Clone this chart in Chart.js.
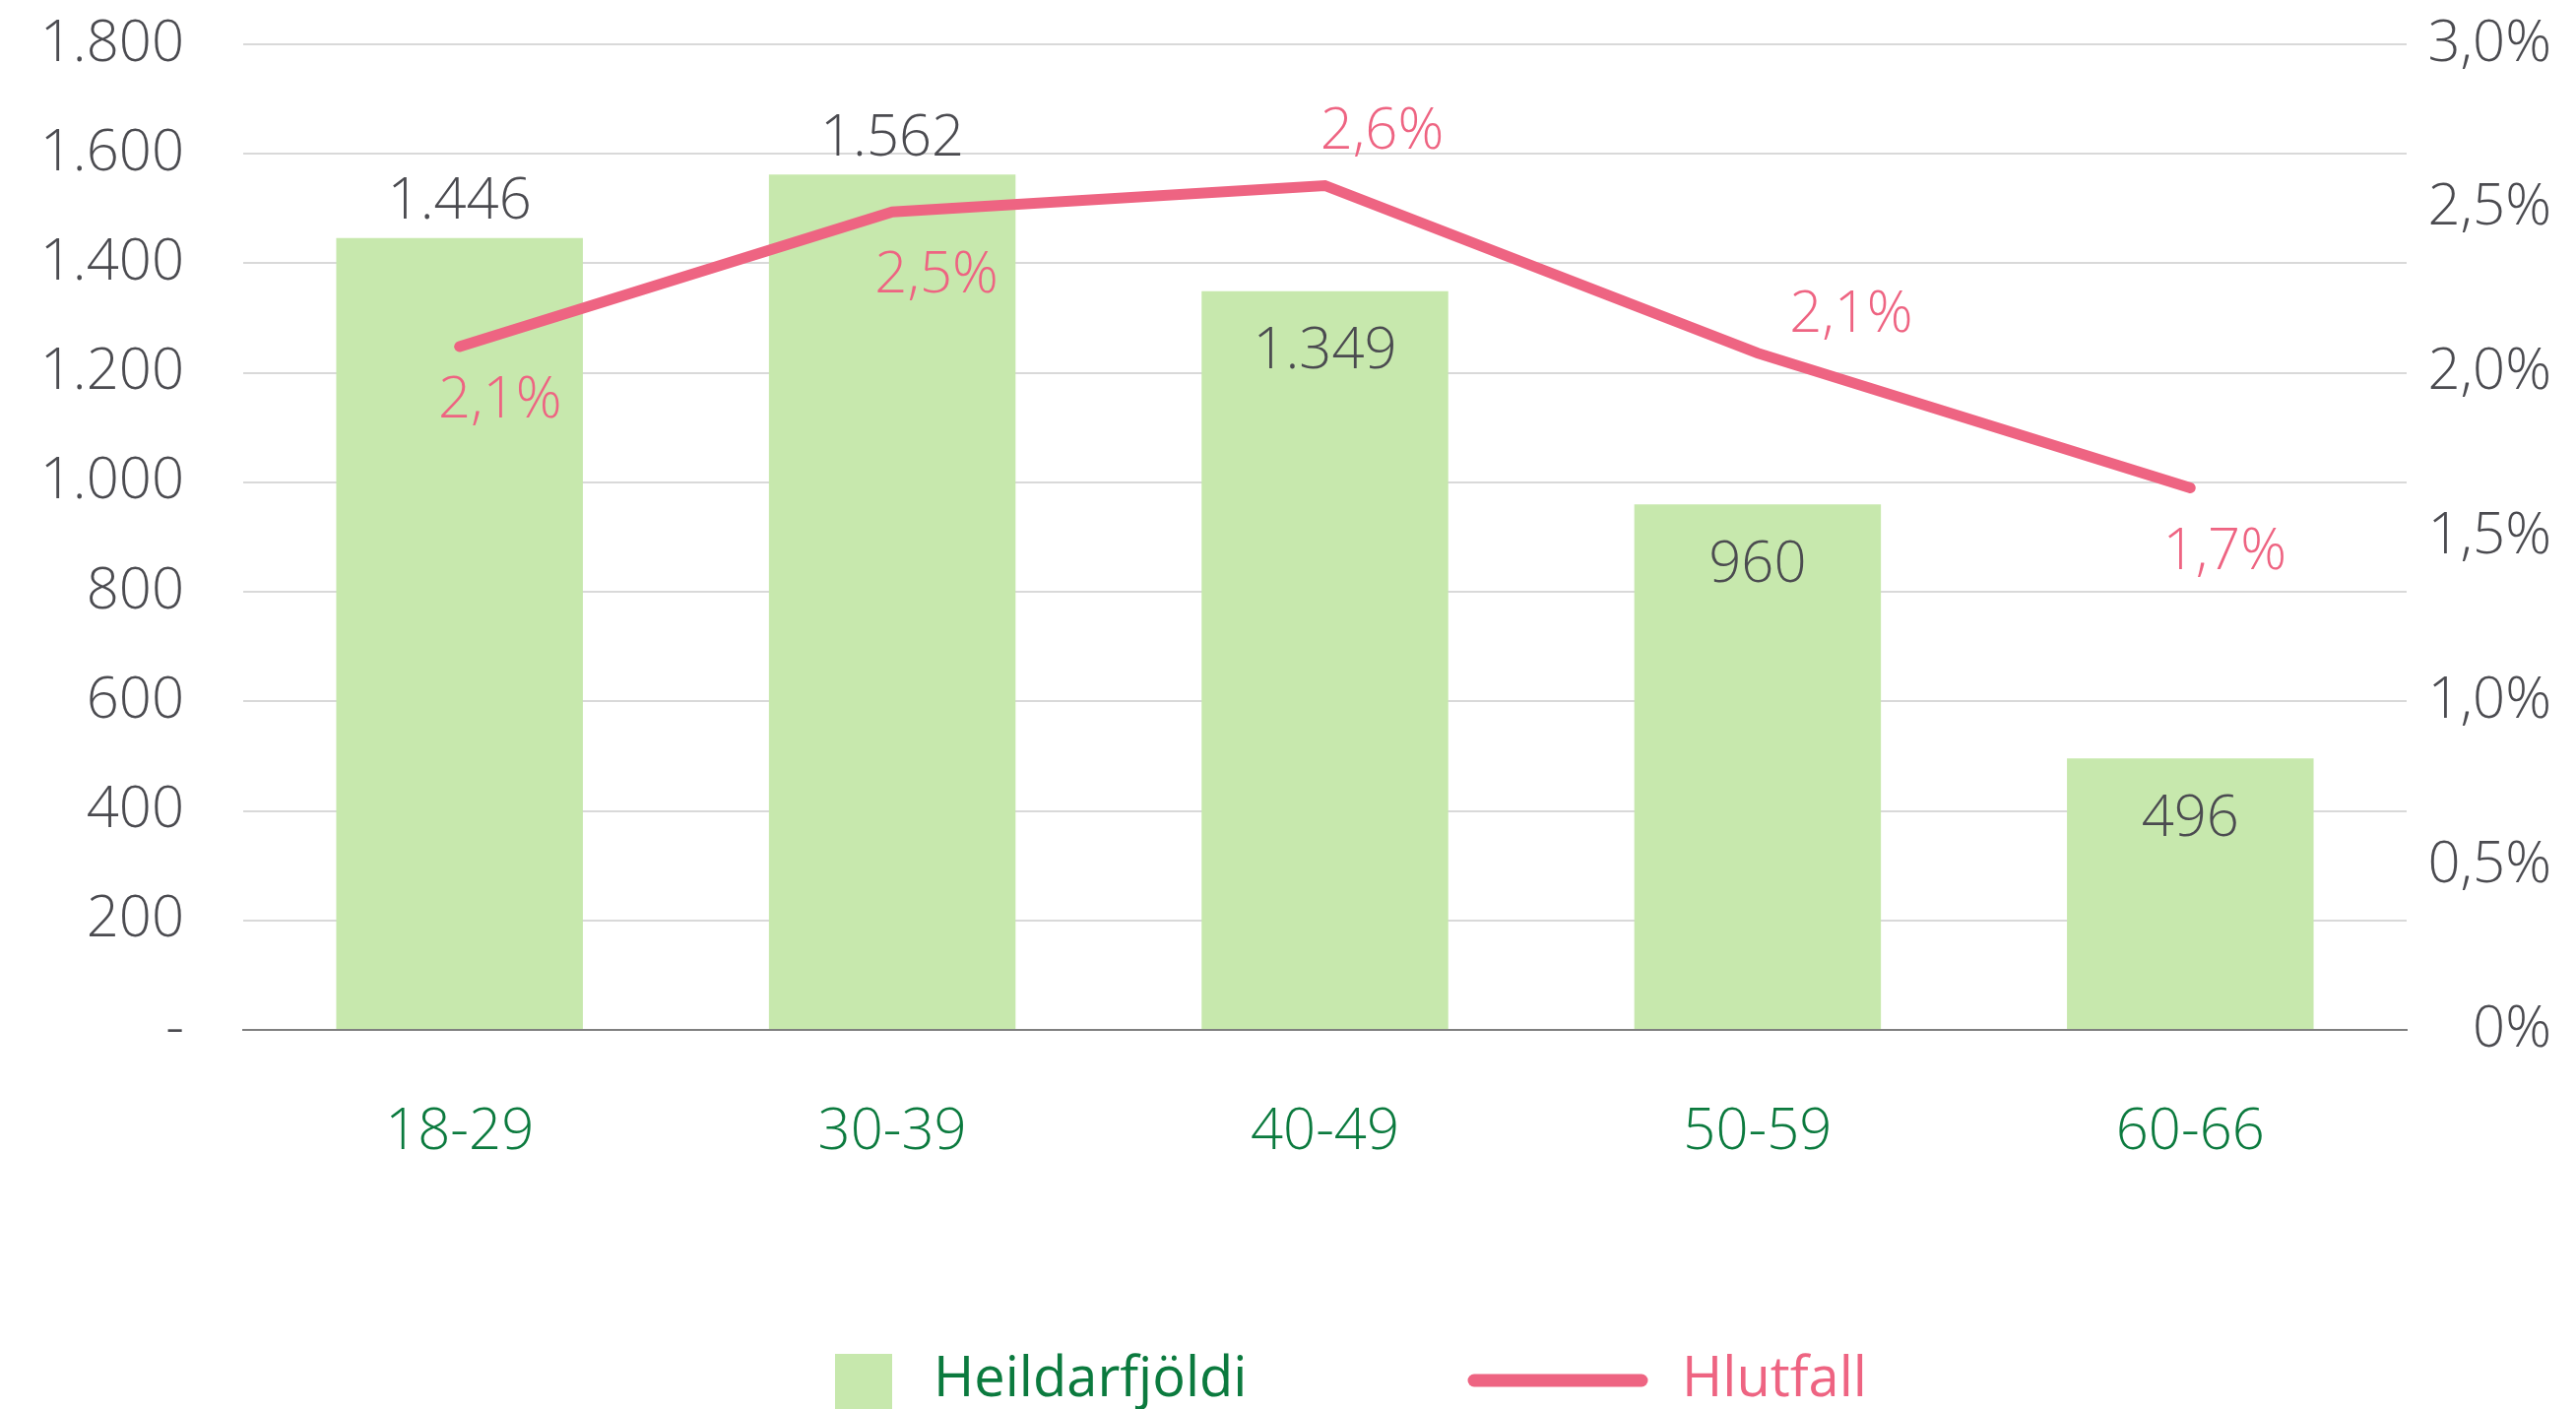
<!DOCTYPE html>
<html><head><meta charset="utf-8">
<script src="https://cdn.jsdelivr.net/npm/chart.js@4.4.1/dist/chart.umd.min.js"></script>
<style>html,body{margin:0;padding:0;background:#fff;overflow:hidden}#wrap{width:2616px;height:1431px}</style>
</head><body><div id="wrap"><canvas id="c" width="2616" height="1431"></canvas></div>
<script>
const categories = ['18-29', '30-39', '40-49', '50-59', '60-66'];
const totalCount = [1446, 1562, 1349, 960, 496];
const shareRate = [2.08, 2.49, 2.57, 2.06, 1.65];
const leftTickLabels = ['-', '200', '400', '600', '800', '1.000', '1.200', '1.400', '1.600', '1.800'];
const rightTickLabels = ['0%', '0,5%', '1,0%', '1,5%', '2,0%', '2,5%', '3,0%'];
const seriesNames = ['Heildarfjöldi', 'Hlutfall'];

const FONT = '"Open Sans", "Liberation Sans", sans-serif';
const GRAY = '#4B4B50';
const GREEN = '#0B7A3E';
const PINK = '#EE6482';
const BAR = '#C7E8AD';

const fmtInt = n => String(n).replace(/\B(?=(\d{3})+(?!\d))/g, '.');
const fmtPct = v => (Math.round(v * 10 + 1e-9) / 10).toFixed(1).replace('.', ',') + '%';

// label placement (styling only)
const barLabelInside = [false, false, true, true, true];
const lineLabelShift = [[41, 56], [45, 65], [58, -54], [95, -38], [35, 66]];

const labelsPlugin = {
  id: 'valueLabels',
  afterDatasetsDraw(chart) {
    const ctx = chart.ctx;
    ctx.save();
    ctx.font = '300 58px ' + FONT;
    ctx.textAlign = 'center';
    ctx.textBaseline = 'middle';
    const bm = chart.getDatasetMeta(1);
    bm.data.forEach((el, i) => {
      ctx.fillStyle = GRAY;
      const y = barLabelInside[i] ? el.y + 62 : el.y - 36;
      ctx.fillText(fmtInt(totalCount[i]), el.x, y);
    });
    const lm = chart.getDatasetMeta(0);
    lm.data.forEach((el, i) => {
      ctx.fillStyle = PINK;
      ctx.fillText(fmtPct(shareRate[i]), el.x + lineLabelShift[i][0], el.y + lineLabelShift[i][1]);
    });
    ctx.restore();
  }
};

const legendPlugin = {
  id: 'customLegend',
  afterDraw(chart) {
    const ctx = chart.ctx;
    ctx.save();
    const cy = 1402;
    ctx.font = '56px ' + FONT;
    ctx.textBaseline = 'middle';
    ctx.textAlign = 'left';
    let x = 848;
    ctx.fillStyle = BAR;
    ctx.fillRect(x, cy - 27, 58, 58);
    ctx.fillStyle = GREEN;
    ctx.fillText(seriesNames[0], x + 100, cy);
    x = 1497;
    ctx.strokeStyle = PINK;
    ctx.lineWidth = 13;
    ctx.lineCap = 'round';
    ctx.beginPath();
    ctx.moveTo(x, cy);
    ctx.lineTo(x + 170, cy);
    ctx.stroke();
    ctx.fillStyle = PINK;
    ctx.fillText(seriesNames[1], 1708, cy);
    ctx.restore();
  }
};

const noVPad = s => { s.paddingTop = 0; s.paddingBottom = 0; };
const tickFont = { family: FONT, size: 58, weight: 300, lineHeight: 1 };

new Chart(document.getElementById('c'), {
  data: {
    labels: categories,
    datasets: [
      {
        type: 'line',
        label: seriesNames[1],
        data: shareRate,
        yAxisID: 'y1',
        borderColor: PINK,
        backgroundColor: PINK,
        borderWidth: 11,
        pointRadius: 0,
        tension: 0,
        borderCapStyle: 'round',
        order: 0
      },
      {
        type: 'bar',
        label: seriesNames[0],
        data: totalCount,
        yAxisID: 'y',
        backgroundColor: BAR,
        barPercentage: 0.57,
        categoryPercentage: 1,
        order: 1
      }
    ]
  },
  options: {
    responsive: false,
    devicePixelRatio: 1,
    animation: false,
    events: [],
    layout: { padding: { top: 45, right: 25, bottom: 235, left: 0 } },
    plugins: { legend: { display: false }, tooltip: { enabled: false } },
    scales: {
      x: {
        grid: { display: false },
        border: { display: true, color: '#808080', width: 2 },
        ticks: { color: GREEN, font: { family: FONT, size: 58, weight: 300, lineHeight: 1.2 }, padding: 62, maxRotation: 0 },
        afterFit: s => { s.height = 150; s.paddingLeft = 0; s.paddingRight = 0; }
      },
      y: {
        position: 'left',
        min: 0, max: 1800,
        ticks: { stepSize: 200, color: GRAY, font: tickFont, padding: 60,
          callback: (v, i) => leftTickLabels[i] },
        grid: { color: '#D9D9D9', lineWidth: 2, drawTicks: false },
        border: { display: false },
        afterFit: s => { s.width = 247; noVPad(s); }
      },
      y1: {
        position: 'right',
        min: 0, max: 3,
        ticks: { stepSize: 0.5, color: GRAY, font: tickFont, padding: 0, crossAlign: 'far',
          callback: (v, i) => rightTickLabels[i] },
        grid: { display: false, drawTicks: false },
        border: { display: false },
        afterFit: s => { s.width = 147; noVPad(s); }
      }
    }
  },
  plugins: [labelsPlugin, legendPlugin]
});
</script>
</body></html>
